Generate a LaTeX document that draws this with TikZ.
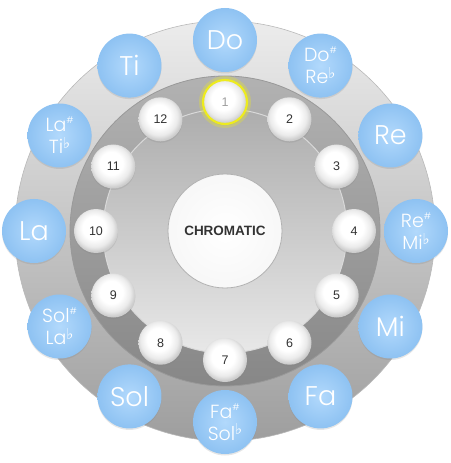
\documentclass[tikz,border=0pt]{standalone}
\usepackage{fontspec}
\setmainfont{Poppins Light}
\newfontfamily\numfont{Liberation Sans}
\newfontfamily\symfont{DejaVu Sans}
\usetikzlibrary{shadows}

\definecolor{rimtop}{HTML}{ECECEC}
\definecolor{rimbottom}{HTML}{9E9E9E}
\definecolor{bandtop}{HTML}{B2B2B2}
\definecolor{bandbottom}{HTML}{878787}
\definecolor{diskto}{HTML}{ADADAD}
\definecolor{diskbottom}{HTML}{E8E8E8}
\definecolor{noteinner}{HTML}{B2D9FC}
\definecolor{noteouter}{HTML}{8EC2F2}
\definecolor{numtext}{HTML}{333333}
\definecolor{glow}{HTML}{EDEB1E}

\pgfdeclareradialshading{pearl}{\pgfpoint{-3bp}{5bp}}{color(0bp)=(white); color(13bp)=(white); color(21bp)=(white!92!black); color(26bp)=(white!80!black); color(50bp)=(white!80!black)}

% sharp and flat marks
\newcommand{\shp}{\raisebox{0.75ex}{\fontsize{9}{9}\selectfont\#}}
\newcommand{\flt}{\raisebox{0.5ex}{\fontsize{15}{15}\selectfont\symfont ♭}}

\begin{document}
\begin{tikzpicture}[x=1pt,y=1pt,
		note/.style={circle,minimum size=64pt,inner sep=0pt,inner color=noteinner,outer color=noteouter,text=white,
			font=\fontsize{27}{27}\selectfont,drop shadow={opacity=0.2,shadow xshift=0pt,shadow yshift=-1.5pt}},
		halfnote/.style={note,align=center,font=\fontsize{19}{22}\selectfont},
		ball/.style={circle,minimum size=44pt,inner sep=0pt,shading=pearl,text=numtext,
			font=\numfont\fontsize{12.5}{12.5}\selectfont,drop shadow={opacity=0.2,shadow xshift=0pt,shadow yshift=-1.5pt}},
		hub/.style={circle,minimum size=114pt,inner sep=0pt,draw=gray!60,line width=0.8pt,inner color=white,outer color=white!97!black,
			text=numtext,font=\numfont\bfseries\fontsize{13.5}{13.5}\selectfont}]
	\useasboundingbox (-225,-232) rectangle (225,231);

	% dial
	\shade[top color=rimtop,bottom color=rimbottom,draw=gray!55,line width=0.6pt] (0,0) circle (210);
	\shade[top color=bandtop,bottom color=bandbottom,draw=gray!80,line width=0.8pt] (0,0) circle (155);
	\shade[top color=diskto,bottom color=diskbottom,draw=white!85!black,line width=1pt] (0,0) circle (122);

	\node[hub]	(hub)	{CHROMATIC};

	% note names
	\node[note]		(do)	at (90:191)		{Do};
	\node[halfnote]	(dore)	at (60:191)		{Do\shp\\Re\flt};
	\node[note]		(re)	at (30:191)		{Re};
	\node[halfnote]	(remi)	at (0:191)		{Re\shp\\Mi\flt};
	\node[note]		(mi)	at (-30:191)	{Mi};
	\node[note]		(fa)	at (-60:191)	{Fa};
	\node[halfnote]	(fasol)	at (-90:191)	{Fa\shp\\Sol\flt};
	\node[note]		(sol)	at (-120:191)	{Sol};
	\node[halfnote]	(solla)	at (-150:191)	{Sol\shp\\La\flt};
	\node[note]		(la)	at (180:191)	{La};
	\node[halfnote]	(lati)	at (150:191)	{La\shp\\Ti\flt};
	\node[note]		(ti)	at (120:191)	{Ti};

	% steps
	\node[ball,draw=glow,line width=2.2pt,text=gray!75]	(1)	at (90:129)		{1};
	\node[ball]	(2)		at (60:129)		{2};
	\node[ball]	(3)		at (30:129)		{3};
	\node[ball]	(4)		at (0:129)		{4};
	\node[ball]	(5)		at (-30:129)	{5};
	\node[ball]	(6)		at (-60:129)	{6};
	\node[ball]	(7)		at (-90:129)	{7};
	\node[ball]	(8)		at (-120:129)	{8};
	\node[ball]	(9)		at (-150:129)	{9};
	\node[ball]	(10)	at (180:129)	{10};
	\node[ball]	(11)	at (150:129)	{11};
	\node[ball]	(12)	at (120:129)	{12};

	\draw[glow,opacity=0.3,line width=3pt] (1.center) circle (24.5);
\end{tikzpicture}
\end{document}
